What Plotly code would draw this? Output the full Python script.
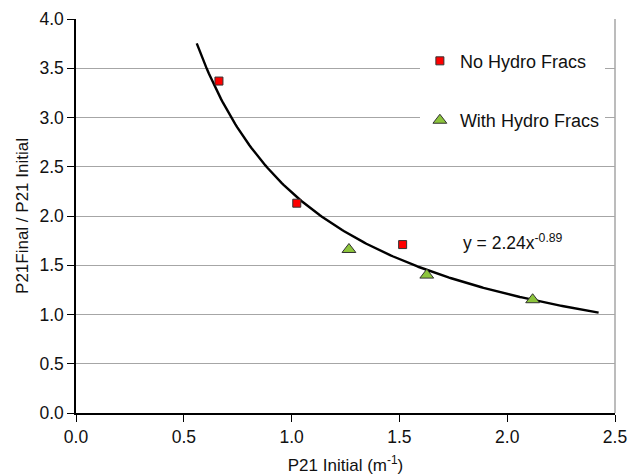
import numpy as np
import plotly.graph_objects as go

# Data
no_hf_x = [0.663, 1.024, 1.515]
no_hf_y = [3.37, 2.13, 1.71]
with_hf_x = [1.266, 1.627, 2.118]
with_hf_y = [1.66, 1.40, 1.15]

# Power trendline y = a * x^b as printed on the chart
fit_a = 2.24
fit_b = -0.89
fit_x_range = [0.56, 2.424]

x_ticks = [0.0, 0.5, 1.0, 1.5, 2.0, 2.5]
y_ticks = [0.0, 0.5, 1.0, 1.5, 2.0, 2.5, 3.0, 3.5, 4.0]

FONT = "Liberation Sans, Arial, sans-serif"
FS = 17

fx = np.linspace(fit_x_range[0], fit_x_range[1], 200)
fy = fit_a * fx ** fit_b

fig = go.Figure()
fig.add_trace(go.Scatter(
    x=fx, y=fy, mode="lines", line=dict(color="black", width=2.4),
    showlegend=False, hoverinfo="skip"))
fig.add_trace(go.Scatter(
    x=no_hf_x, y=no_hf_y, mode="markers", name="No Hydro Fracs",
    legendgroup="a",
    marker=dict(symbol="square", size=8, color="#ff0000",
                line=dict(color="#333333", width=1))))
fig.add_trace(go.Scatter(
    x=with_hf_x, y=with_hf_y, mode="markers", name="With Hydro Fracs",
    legendgroup="b",
    marker=dict(symbol="triangle-up", size=12, color="#8cc43c",
                line=dict(color="#333333", width=1))))

fig.add_annotation(
    x=1.785, y=1.74, xref="x", yref="y", xanchor="left", yanchor="middle",
    text="y = 2.24x<sup>-0.89</sup>", showarrow=False,
    font=dict(family=FONT, size=17.5, color="#111111"))

fig.update_layout(
    width=630, height=475,
    margin=dict(l=76, r=15, t=19, b=62),
    paper_bgcolor="white", plot_bgcolor="white",
    font=dict(family=FONT, size=FS, color="#111111"),
    legend=dict(x=0.638, y=0.94, xanchor="left", yanchor="top",
                bgcolor="rgba(255,255,255,1)", borderwidth=0,
                traceorder="grouped", tracegroupgap=33, itemwidth=30,
                font=dict(family=FONT, size=18, color="#111111")),
    xaxis=dict(range=[0, 2.5], tickvals=x_ticks,
               ticktext=[f"{v:.1f}" for v in x_ticks],
               showgrid=False, zeroline=False,
               showline=True, linecolor="black", linewidth=1.5,
               ticks="outside", ticklen=7, tickcolor="black",
               tickfont=dict(family=FONT, size=17.5),
               automargin=False,
               title=dict(text="P21 Initial (m<sup>-1</sup>)", standoff=17,
                          font=dict(family=FONT, size=FS))),
    yaxis=dict(range=[0, 4.0], tickvals=y_ticks,
               ticktext=[f"{v:.1f}" for v in y_ticks],
               showgrid=True, gridcolor="#a6a6a6", gridwidth=1,
               zeroline=False,
               showline=True, linecolor="black", linewidth=1.5,
               ticks="outside", ticklen=7, tickcolor="black",
               tickfont=dict(family=FONT, size=17.5),
               automargin=False,
               title=dict(text="P21Final / P21 Initial", standoff=6,
                          font=dict(family=FONT, size=FS))),
)
# right border of plot area (gray), as in the reference
fig.add_shape(type="line", xref="paper", yref="paper", x0=1, x1=1, y0=0, y1=1,
              line=dict(color="#a6a6a6", width=1.5))

fig.write_html("out.html")
